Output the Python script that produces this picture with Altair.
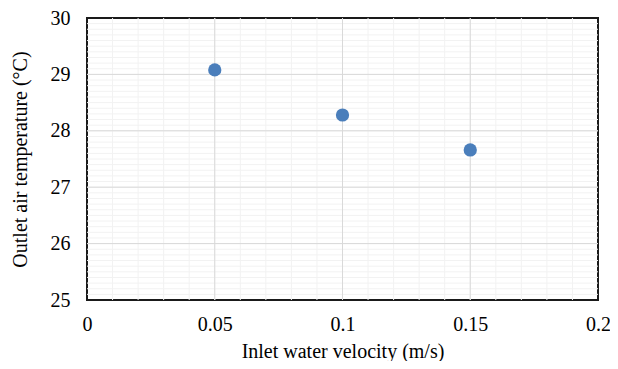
import altair as alt
import pandas as pd

velocity = [0.05, 0.1, 0.15]
temperature = [29.08, 28.28, 27.66]

x_major = [0.05, 0.1, 0.15]
x_minor = [i / 100 for i in range(1, 20)]
y_major = [26, 27, 28, 29]
y_minor = [25 + i / 10 for i in range(1, 50)]

pts = pd.DataFrame({"v": velocity, "t": temperature})

xs = alt.Scale(domain=[0, 0.2], nice=False, zero=False)
ys = alt.Scale(domain=[25, 30], nice=False, zero=False)

font = "Liberation Serif"

minor_x = alt.Chart(pd.DataFrame({"v": x_minor})).mark_rule(color="#f2f2f2", strokeWidth=1).encode(
    x=alt.X("v:Q", scale=xs))
minor_y = alt.Chart(pd.DataFrame({"t": y_minor})).mark_rule(color="#f2f2f2", strokeWidth=1).encode(
    y=alt.Y("t:Q", scale=ys))
major_x = alt.Chart(pd.DataFrame({"v": x_major})).mark_rule(color="#d9d9d9", strokeWidth=1).encode(
    x=alt.X("v:Q", scale=xs))
major_y = alt.Chart(pd.DataFrame({"t": y_major})).mark_rule(color="#d9d9d9", strokeWidth=1).encode(
    y=alt.Y("t:Q", scale=ys))

points = alt.Chart(pts).mark_circle(size=175, color="#4a7ebb", opacity=1).encode(
    x=alt.X("v:Q", scale=xs, title="Inlet water velocity (m/s)",
            axis=alt.Axis(values=[0, 0.05, 0.1, 0.15, 0.2],
                          labelExpr="datum.value == 0 ? '0' : format(datum.value, '~g')",
                          labelFlush=False, labelOverlap=False)),
    y=alt.Y("t:Q", scale=ys, title="Outlet air temperature (°C)",
            axis=alt.Axis(values=[25, 26, 27, 28, 29, 30], format="d",
                          labelFlush=False, labelOverlap=False)),
)

chart = alt.layer(minor_x, minor_y, major_x, major_y, points).properties(
    width=511, height=282,
    autosize=alt.AutoSizeParams(type="none"),
    padding={"left": 79, "top": 10, "right": 12, "bottom": 61},
).configure(font=font).configure_view(stroke="#1a1a1a", strokeWidth=2).configure_axis(
    grid=False, domain=False, ticks=False,
    labelFont=font, labelFontSize=20, labelColor="#000",
    titleFont=font, titleFontSize=20, titleColor="#000", titleFontWeight="normal",
).configure_axisX(labelPadding=14, titlePadding=7).configure_axisY(labelPadding=17, titlePadding=20)

chart.save("out.html", embed_options={"renderer": "svg", "actions": False})
